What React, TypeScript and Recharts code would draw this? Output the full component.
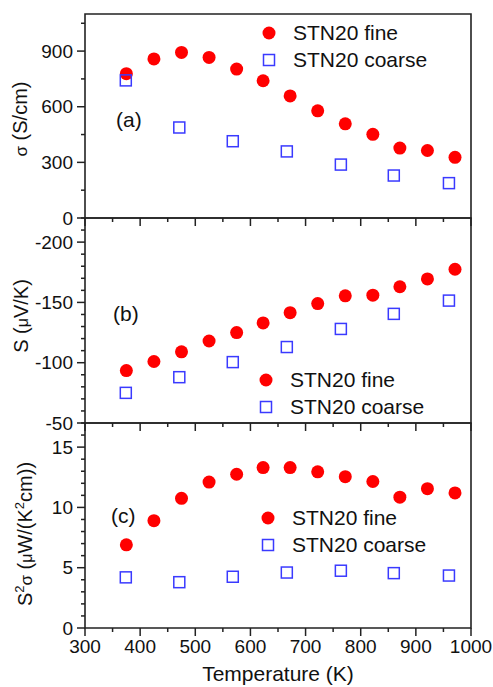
import { ScatterChart, Scatter, XAxis, YAxis, ReferenceArea, Legend } from "recharts";

// measured temperatures (K)
const fineTemp = [375, 425, 475, 525, 575, 623, 672, 722, 772, 822, 871, 921, 971];
const coarseTemp = [374, 471, 568, 666, 764, 860, 960];

// (a) electrical conductivity, S/cm
const sigmaFine = [778, 858, 893, 866, 803, 740, 658, 578, 508, 451, 377, 364, 327];
const sigmaCoarse = [742, 488, 414, 359, 288, 229, 188];

// (b) Seebeck coefficient, uV/K
const seebeckFine = [-93.5, -101, -109, -118, -125, -133, -141.5, -149, -155.5, -156, -163, -169.5, -177.5];
const seebeckCoarse = [-75, -88, -100.5, -113, -128, -140.5, -151.5];

// (c) power factor, uW/(K^2 cm)
const pfFine = [6.9, 8.9, 10.75, 12.1, 12.75, 13.3, 13.3, 12.95, 12.55, 12.15, 10.85, 11.55, 11.2];
const pfCoarse = [4.2, 3.8, 4.25, 4.6, 4.75, 4.55, 4.35];

const tempTicks = [300, 350, 400, 450, 500, 550, 600, 650, 700, 750, 800, 850, 900, 950, 1000];
const sigmaTicks = [0, 150, 300, 450, 600, 750, 900, 1050];
const seebeckTicks = [-50, -60, -70, -80, -90, -100, -110, -120, -130, -140, -150, -160, -170, -180, -190, -200, -210, -220];
const pfTicks = [0, 1, 2, 3, 4, 5, 6, 7, 8, 9, 10, 11, 12, 13, 14, 15, 16, 17];

const seriesNames = ["STN20 fine", "STN20 coarse"];

const FONT = "'Liberation Sans', Arial, sans-serif";
const INK = "#111";
const AXIS = "#222";
const RED = "#ff0000";
const BLUE = "#3a3aff";

const toPoints = (xs: number[], ys: number[]) => xs.map((x, i) => ({ x, y: ys[i] }));

const Dot = (p: any) => <circle cx={p.cx} cy={p.cy} r={6.5} fill={RED} />;
const Square = (p: any) => (
  <rect x={p.cx - 5.5} y={p.cy - 5.5} width={11} height={11} fill="none" stroke={BLUE} strokeWidth={1.5} />
);

const XTick = (props: any) => {
  const { x, y, payload, showLabel } = props;
  const major = payload.value % 100 === 0;
  return (
    <g>
      <line x1={x} x2={x} y1={y} y2={y + (major ? 8 : 4)} stroke={AXIS} strokeWidth={1.5} />
      {showLabel && major ? (
        <text x={x} y={y + 25} textAnchor="middle" fontSize={19} fontFamily={FONT} fill={INK}>
          {payload.value}
        </text>
      ) : null}
    </g>
  );
};

const YTick = (props: any) => {
  const { x, y, payload, step } = props;
  const major = Math.abs(payload.value % step) < 1e-9;
  return (
    <g>
      <line x1={x - (major ? 8 : 4)} x2={x} y1={y} y2={y} stroke={AXIS} strokeWidth={1.5} />
      {major ? (
        <text x={x - 12} y={y} dy="0.35em" textAnchor="end" fontSize={19} fontFamily={FONT} fill={INK}>
          {payload.value}
        </text>
      ) : null}
    </g>
  );
};

const LegendBox = () => (
  <div style={{ fontFamily: FONT, fontSize: 21, color: INK }}>
    {seriesNames.map((name, i) => (
      <div key={name} style={{ display: "flex", alignItems: "center", height: 26.5, whiteSpace: "nowrap" }}>
        <svg width={24} height={24} style={{ marginRight: 12 }}>
          {i === 0 ? (
            <circle cx={12} cy={12} r={6.5} fill={RED} />
          ) : (
            <rect x={6.5} y={6.5} width={11} height={11} fill="none" stroke={BLUE} strokeWidth={1.5} />
          )}
        </svg>
        <span>{name}</span>
      </div>
    ))}
  </div>
);

type PanelProps = {
  top: number;
  height: number;
  marginTop: number;
  xHeight: number;
  yDomain: [number, number];
  yTicks: number[];
  step: number;
  reversed?: boolean;
  fine: number[];
  coarse: number[];
  showX?: boolean;
  legendPos: { top: number; left: number };
  tag: string;
  tagY: number;
  tagX: number;
  title: React.ReactNode;
  titleX: number;
  titleY: number;
};

const Panel = (p: PanelProps) => (
  <div style={{ position: "absolute", left: 0, top: p.top }}>
    <ScatterChart width={493} height={p.height} margin={{ top: p.marginTop, right: 22, bottom: 0, left: 25 }}>
      <XAxis
        type="number"
        dataKey="x"
        domain={[300, 1000]}
        ticks={tempTicks}
        interval={0}
        axisLine={false}
        tickLine={false}
        tickSize={0}
        tickMargin={0}
        height={p.xHeight}
        tick={<XTick showLabel={p.showX} />}
      />
      <YAxis
        type="number"
        dataKey="y"
        domain={p.yDomain}
        ticks={p.yTicks}
        reversed={p.reversed}
        interval={0}
        allowDataOverflow
        axisLine={false}
        tickLine={false}
        tickSize={0}
        tickMargin={0}
        width={60}
        tick={<YTick step={p.step} />}
      />
      <ReferenceArea
        x1={300}
        x2={1000}
        y1={p.yDomain[0]}
        y2={p.yDomain[1]}
        fill="none"
        stroke={AXIS}
        strokeWidth={1.6}
        strokeOpacity={1}
      />
      <Scatter name={seriesNames[0]} data={toPoints(fineTemp, p.fine)} shape={Dot} isAnimationActive={false} />
      <Scatter name={seriesNames[1]} data={toPoints(coarseTemp, p.coarse)} shape={Square} isAnimationActive={false} />
      <Legend
        layout="vertical"
        align="center"
        verticalAlign="middle"
        content={<LegendBox />}
        wrapperStyle={{ top: p.legendPos.top, left: p.legendPos.left, width: 210 }}
      />
      <text x={p.tagX} y={p.tagY} fontSize={21} fontFamily={FONT} fill={INK}>
        {p.tag}
      </text>
      <text
        x={p.titleX}
        y={p.titleY}
        transform={`rotate(-90 ${p.titleX} ${p.titleY})`}
        textAnchor="middle"
        fontSize={20}
        fontFamily={FONT}
        fill={INK}
      >
        {p.title}
      </text>
      {p.showX ? (
        <text x={278} y={276} textAnchor="middle" fontSize={21} fontFamily={FONT} fill={INK}>
          Temperature (K)
        </text>
      ) : null}
    </ScatterChart>
  </div>
);

export default function App() {
  return (
    <div style={{ position: "absolute", left: 0, top: 0, width: 493, height: 687, background: "#fff" }}>
      <Panel
        top={0}
        height={240}
        marginTop={14}
        xHeight={22}
        yDomain={[0, 1100]}
        yTicks={sigmaTicks}
        step={300}
        fine={sigmaFine}
        coarse={sigmaCoarse}
        legendPos={{ top: 20, left: 257 }}
        tag="(a)"
        tagX={116}
        tagY={127}
        titleX={27}
        titleY={119}
        title={
          <>
            <tspan fontSize={17}>σ</tspan>
            <tspan> (S/cm)</tspan>
          </>
        }
      />
      <Panel
        top={200}
        height={245}
        marginTop={18}
        xHeight={22}
        yDomain={[-220, -50]}
        yTicks={seebeckTicks}
        step={50}
        reversed
        fine={seebeckFine}
        coarse={seebeckCoarse}
        legendPos={{ top: 167, left: 254 }}
        tag="(b)"
        tagX={113}
        tagY={121}
        titleX={28}
        titleY={116}
        title={
          <>
            <tspan>S (</tspan>
            <tspan fontSize={16}>μ</tspan>
            <tspan>V/K)</tspan>
          </>
        }
      />
      <Panel
        top={405}
        height={282}
        marginTop={18}
        xHeight={59}
        yDomain={[0, 17]}
        yTicks={pfTicks}
        step={5}
        fine={pfFine}
        coarse={pfCoarse}
        showX
        legendPos={{ top: 100, left: 256 }}
        tag="(c)"
        tagX={111}
        tagY={118}
        titleX={32}
        titleY={129}
        title={
          <>
            <tspan>S</tspan>
            <tspan fontSize={13} dy={-8}>2</tspan>
            <tspan fontSize={17} dy={8}>σ</tspan>
            <tspan> (</tspan>
            <tspan fontSize={16}>μ</tspan>
            <tspan>W/(K</tspan>
            <tspan fontSize={13} dy={-8}>2</tspan>
            <tspan dy={8}>cm))</tspan>
          </>
        }
      />
    </div>
  );
}
